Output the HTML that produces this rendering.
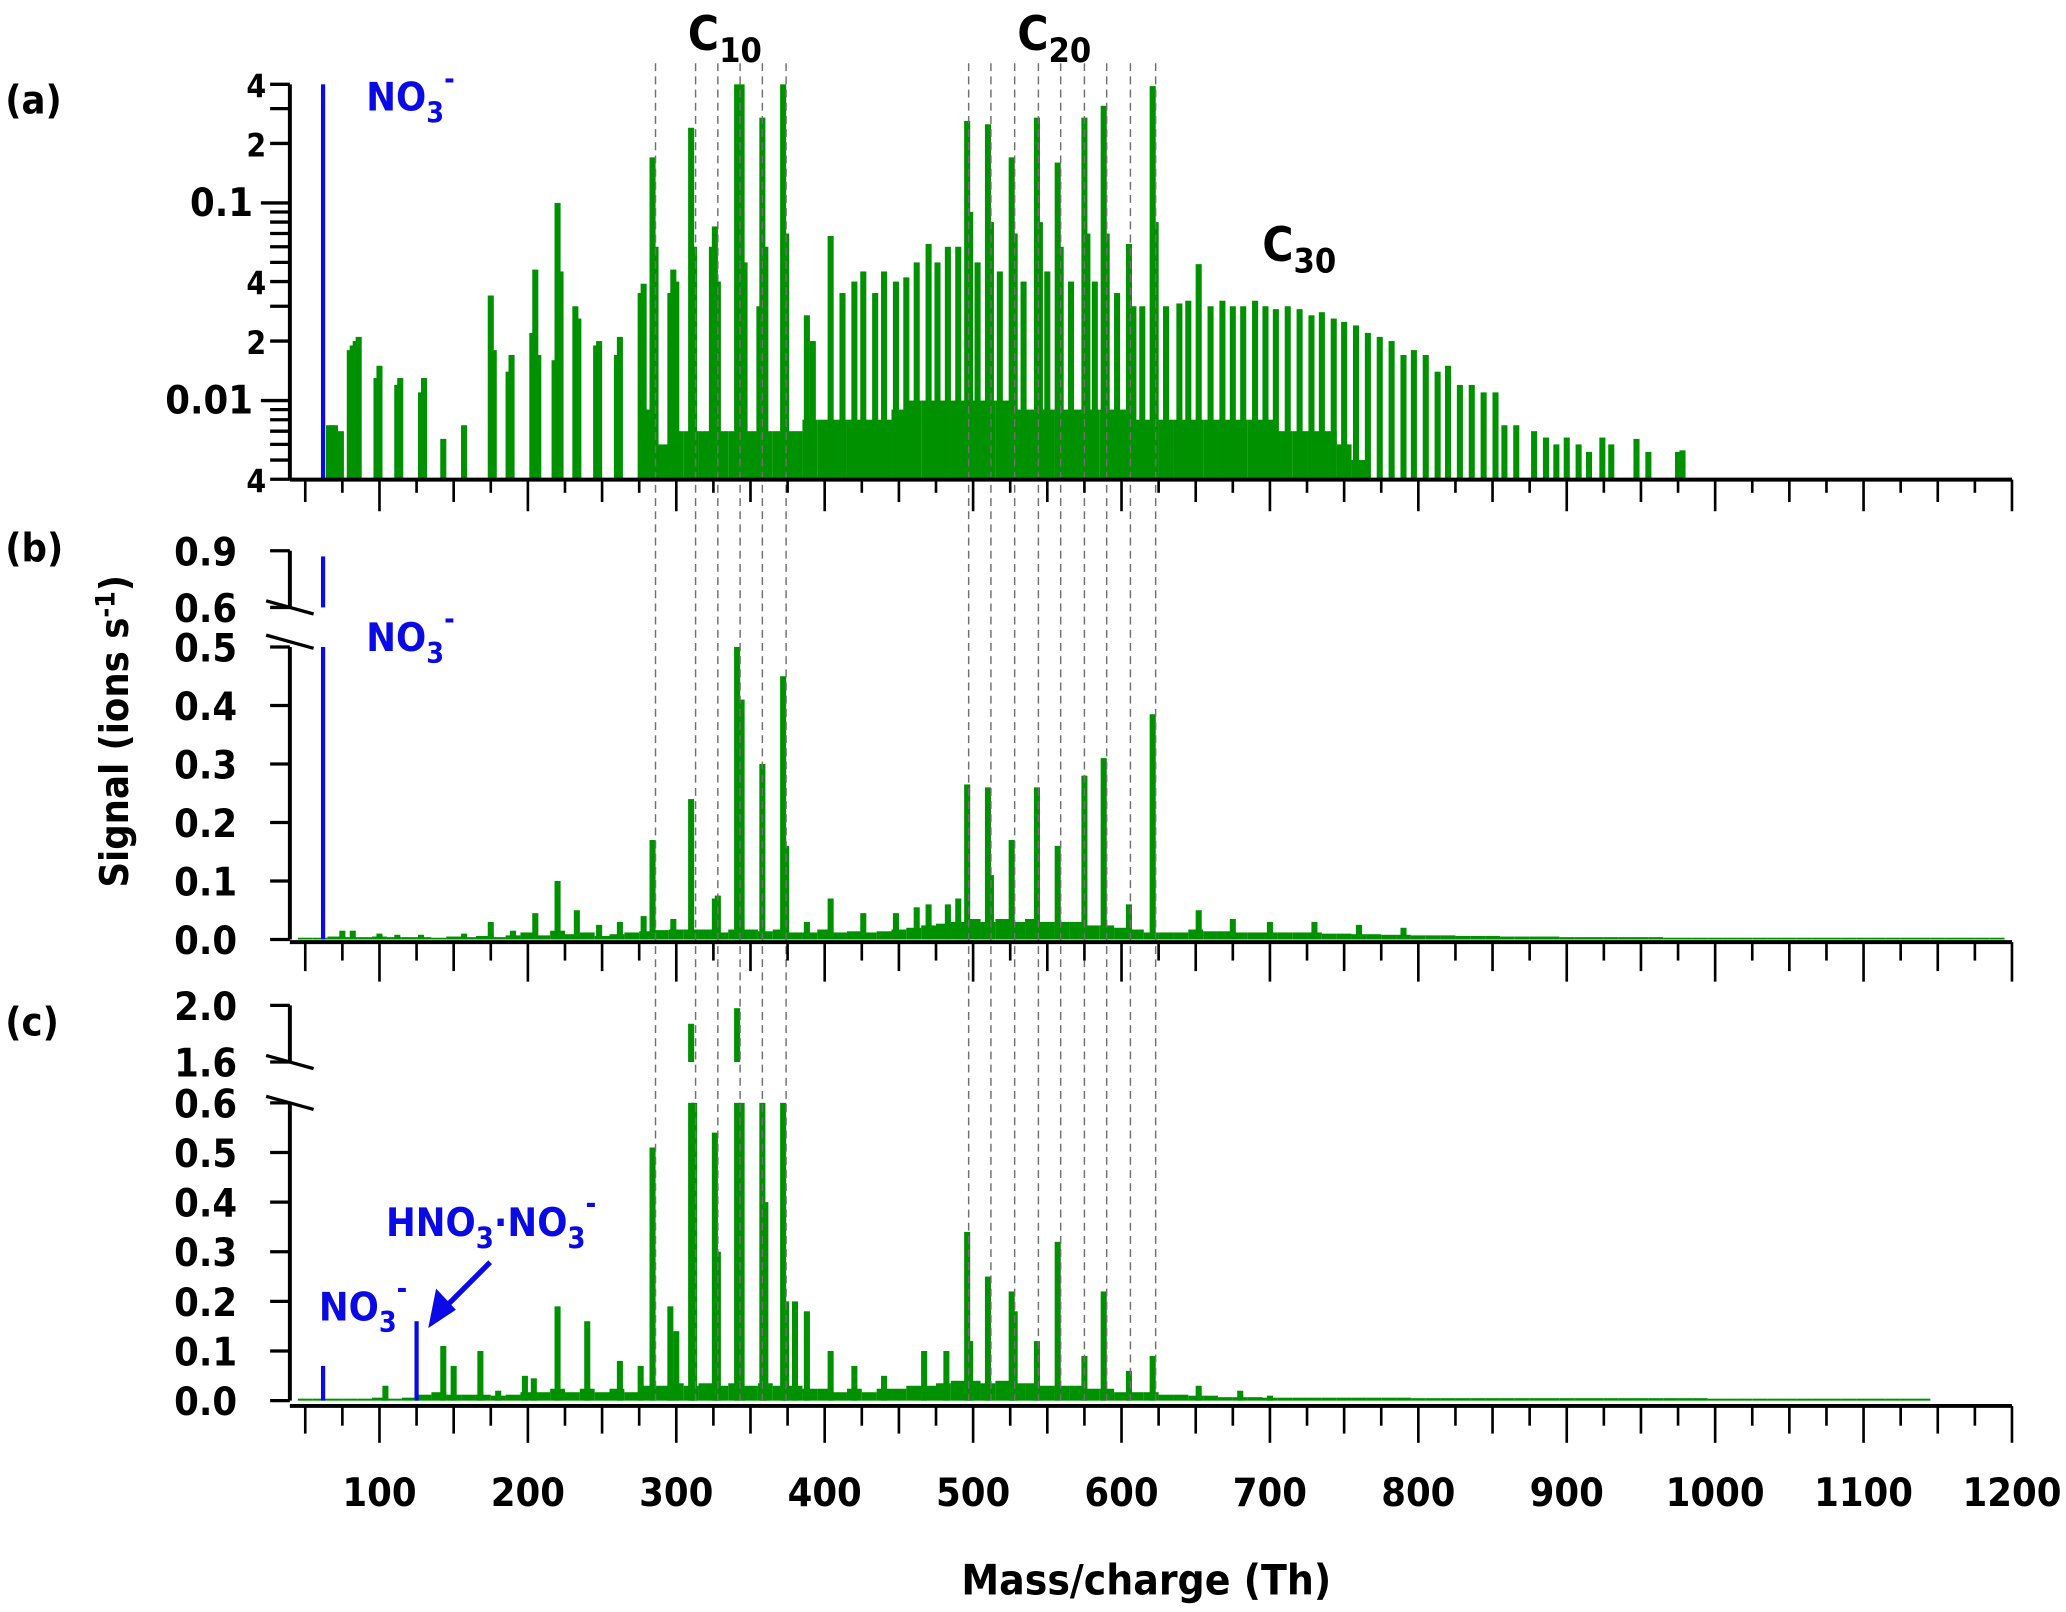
<!DOCTYPE html>
<html><head><meta charset="utf-8">
<style>
html,body{margin:0;padding:0;background:#fff;}
svg{display:block;}
text{font-family:"DejaVu Sans Condensed","DejaVu Sans","Liberation Sans",sans-serif;font-weight:bold;font-stretch:condensed;}
</style></head>
<body>
<svg id="chart" width="2066" height="1612" viewBox="0 0 1568 1223.4" preserveAspectRatio="none" xmlns="http://www.w3.org/2000/svg">
<g id="gEnv"></g><g id="gBars"></g><g id="gDash"></g><g id="gAxes"></g><g id="gText"></g>
</svg>
<script>
// ---------- data ----------
const dashMz = [286,313,328,343,358,374,497,512,528,544,559,575,590,606,623];
const xTickLabels = [100,200,300,400,500,600,700,800,900,1000,1100,1200];

// panel (a) log scale
const aEnvStart = 50;
const aEnv = [0,0,.005,0,0,0,0,0,0,0,0,0,0,0,0,0,0,0,0,0,0,0,0,
 .009,.006,.007,.007,.007,.007,.007,.007,.007,.007,.007,.008,.008,.008,.008,.008,.008,
 .009,.01,.01,.01,.01,.01,.01,.01,.009,.009,.009,.009,.009,.009,.009,.009,
 .008,.008,.008,.008,.008,.008,.008,.008,.008,.008,.007,.007,.007,.007,.006,.005];
const aMz = [66,68,70,74,80,82,84,86,98,100,112,114,128,130,143,157,175,177,187,189,203,205,207,218,220,222,232,234,246,248,260,262,276,278,284,286,296,298,300,310,312,324,326,328,341,344,346,356,358,360,372,374,388,392,404,412,420,426,434,440,448,455,462,470,476,483,490,496,498,503,510,512,518,526,528,534,543,545,550,557,559,566,575,577,582,588,590,597,605,608,614,621,623,630,639,645,652,660,668,675,682,690,697,704,712,720,728,735,743,750,758,766,774,782,790,797,805,813,820,828,836,844,852,858,866,878,886,893,900,908,915,924,930,947,955,975,978];
const aVal = [.0075,.0075,.0075,.007,.018,.019,.02,.021,.013,.015,.012,.013,.011,.013,.0064,.0075,.034,.018,.014,.017,.022,.046,.017,.016,.1,.045,.03,.026,.019,.02,.017,.021,.035,.039,.17,.06,.035,.046,.04,.24,.06,.06,.076,.04,.4,.4,.05,.03,.27,.06,.4,.07,.027,.02,.068,.035,.04,.045,.035,.045,.04,.042,.05,.062,.05,.06,.06,.26,.09,.05,.25,.08,.045,.17,.07,.04,.27,.08,.045,.16,.06,.04,.27,.07,.04,.31,.07,.035,.062,.03,.03,.39,.08,.03,.031,.032,.049,.03,.032,.03,.03,.032,.03,.029,.03,.029,.027,.028,.026,.025,.024,.022,.021,.02,.017,.018,.017,.014,.015,.012,.012,.011,.011,.0075,.0075,.007,.0065,.006,.0065,.006,.0055,.0065,.006,.0064,.0055,.0055,.0056];

// panel (b) linear with break
const bEnvStart = 50;
const bEnv = [.003,.003,.005,.004,.004,.005,.004,.004,.004,.003,.005,.004,.006,.004,.007,.012,.007,.015,.009,.012,.006,.009,.012,.014,.016,
 .017,.017,.017,.012,.017,.017,.014,.017,.012,.012,.017,.012,.014,.012,.014,.017,.02,.024,.027,.03,.035,.03,.035,.03,.035,.03,.03,.03,.024,.024,
 .02,.017,.012,.012,.012,.017,.014,.014,.012,.012,.012,.012,.012,.012,.01,.01,.009,.009,.008,.008,.007,.007,.007,.006,.006,.006,.005,.005,.005,.005,
 .004,.004,.004,.004,.004,.004,.004,.003,.003,.003,.003,.003,.003,.003,.003,.003,.003,.003,.003,.003,.003,.003,.003,.003,.003,.003,.003,.003,.003,.003];
const bMz = [75,82,100,112,128,157,175,190,205,220,233,248,262,278,284,298,310,326,328,341,344,358,372,374,388,404,426,448,462,470,483,490,496,510,512,526,543,557,575,588,605,621,652,675,700,730,760,790];
const bVal = [.015,.015,.01,.008,.008,.01,.03,.015,.045,.1,.05,.025,.03,.04,.17,.035,.24,.07,.075,.5,.41,.3,.45,.16,.03,.07,.045,.045,.055,.06,.06,.07,.265,.26,.11,.17,.26,.16,.28,.31,.06,.385,.05,.035,.03,.03,.025,.02];

// panel (c)
const cEnvStart = 50;
const cEnv = [.004,.004,.004,.004,.004,.006,.004,.006,.012,.017,.012,.012,.012,.01,.012,.017,.017,.024,.017,.024,.017,.024,.017,.03,.03,
 .035,.03,.035,.03,.035,.03,.035,.03,.03,.024,.024,.017,.024,.017,.024,.024,.03,.03,.035,.04,.04,.035,.04,.035,.035,.03,.03,.03,.024,.024,
 .017,.017,.017,.012,.012,.01,.01,.007,.007,.007,.006,.006,.006,.006,.006,.006,.006,.006,.006,.006,
 .005,.005,.005,.005,.005,.005,.005,.005,.005,.005,.005,.005,.005,.005,.005,.005,.005,.005,.005,.005,
 .004,.004,.004,.004,.004,.004,.004,.004,.004,.004,.004,.004,.004,.004,.004];
const cMz = [104,143,150,168,180,198,204,220,240,262,276,284,296,300,310,312,326,328,341,344,358,360,372,374,380,388,404,420,440,467,482,496,498,510,526,528,543,557,575,588,605,621,652,680,700];
const cVal = [.03,.11,.07,.1,.02,.05,.045,.19,.16,.08,.07,.51,.19,.14,1.87,.6,.54,.3,1.98,.6,.6,.4,.6,.2,.2,.18,.1,.07,.05,.1,.1,.34,.12,.25,.22,.18,.12,.32,.09,.22,.06,.09,.03,.02,.01];

const blueMz = [62,62,62,125];

// ---------- scales ----------
const NS="http://www.w3.org/2000/svg";
const xs = m => 288 + (m-100)*1.12636;
const ya = v => { const y = 154 - (Math.log10(v)+1)*150; return Math.max(64, Math.min(364, y)); };
const yb = v => 713 - Math.min(v,0.5)*444;
const ybU = v => 461 - (Math.min(v,0.9)-0.6)*143.3;
const yc = v => 1063 - Math.min(v,0.6)*376.7;
const ycU = v => 806 - (Math.min(v,2.0)-1.6)*107.5;
const GREEN="#009100", BLUE="#0a0ae6";

function mk(tag, attrs, parent){ const e=document.createElementNS(NS,tag); for(const k in attrs) e.setAttribute(k,attrs[k]); parent.appendChild(e); return e; }
const gEnv=document.getElementById('gEnv'), gBars=document.getElementById('gBars'), gDash=document.getElementById('gDash'), gAxes=document.getElementById('gAxes'), gText=document.getElementById('gText');

function rect(parent, x0, x1, y0, y1, fill, name){
  const r = mk('rect',{x:Math.min(x0,x1),y:Math.min(y0,y1),width:Math.abs(x1-x0),height:Math.abs(y1-y0),fill:fill},parent);
  
  
  return r;
}

// envelopes
aEnv.forEach((v,i)=>{ if(v<=0.004) return; const m=aEnvStart+i*10; rect(gEnv, xs(m-5), xs(m+5), 364, ya(v), GREEN, 'panel-a-background'); });
bEnv.forEach((v,i)=>{ const m=bEnvStart+i*10; rect(gEnv, xs(m-5), xs(m+5), 713, yb(v), GREEN, 'panel-b-background'); });
cEnv.forEach((v,i)=>{ const m=cEnvStart+i*10; rect(gEnv, xs(m-5), xs(m+5), 1063, yc(v), GREEN, 'panel-c-background'); });

// peaks
const W=2.3;
aMz.forEach((m,i)=>{ rect(gBars, xs(m)-W, xs(m)+W, 364, ya(aVal[i]), GREEN, 'panel-a-peak'); });
bMz.forEach((m,i)=>{ const v=bVal[i]; rect(gBars, xs(m)-W, xs(m)+W, 713, yb(v), GREEN, 'panel-b-peak'); if(v>0.6) rect(gBars, xs(m)-W, xs(m)+W, 461, ybU(v), GREEN, 'panel-b-peak-upper'); });
cMz.forEach((m,i)=>{ const v=cVal[i]; rect(gBars, xs(m)-W, xs(m)+W, 1063, yc(v), GREEN, 'panel-c-peak'); if(v>1.6) rect(gBars, xs(m)-W, xs(m)+W, 806, ycU(v), GREEN, 'panel-c-peak-upper'); });

// blue reagent ion bars
rect(gBars, xs(blueMz[0])-1.6, xs(blueMz[0])+1.6, 364, ya(0.4), BLUE, 'panel-a-no3-peak');
rect(gBars, xs(blueMz[1])-1.6, xs(blueMz[1])+1.6, 713, yb(0.5), BLUE, 'panel-b-no3-peak');
rect(gBars, xs(blueMz[1])-1.6, xs(blueMz[1])+1.6, 461, ybU(0.87), BLUE, 'panel-b-no3-peak-upper');
rect(gBars, xs(blueMz[2])-1.6, xs(blueMz[2])+1.6, 1063, yc(0.07), BLUE, 'panel-c-no3-peak');
rect(gBars, xs(blueMz[3])-1.6, xs(blueMz[3])+1.6, 1063, yc(0.16), BLUE, 'panel-c-hno3-no3-peak');

// dashed lines
dashMz.forEach(m=>{ const l=mk('line',{x1:xs(m),x2:xs(m),y1:48,y2:1063,stroke:'#707070','stroke-width':1.1,'stroke-dasharray':'6,4'},gDash);
  
   });

// axes helpers
function line(x1,y1,x2,y2,w,name){ const l=mk('line',{x1,y1,x2,y2,stroke:'#000','stroke-width':w},gAxes);
  
   return l; }
function txt(x,y,s,size,anchor,fill,name){ const t=mk('text',{x,y,'font-size':size,'text-anchor':anchor||'start',fill:fill||'#000'},gText); t.textContent=s;
  
   return t; }

// x axes
[[364,24,17,10],[715,30,22,14],[1067,28,21,15]].forEach(([y,lL,lM,lS],pi)=>{
  line(220,y,1527,y,3,'x-axis-'+'abc'[pi]);
  for(let m=50;m<=1200;m+=25){ const L = m%100===0?lL:(m%50===0?lM:lS); line(xs(m),y,xs(m),y+L,2,'x-tick'); }
});
xTickLabels.forEach(v=>txt(xs(v),1143,String(v),30,'middle','#000','x-tick-label'));
txt(870,1210,'Mass/charge (Th)',32,'middle','#000','x-axis-title');

// panel a y axis
line(220,64,220,364,3,'y-axis-a');
const aMajor=[[0.4,'4'],[0.2,'2'],[0.1,'0.1'],[0.04,'4'],[0.02,'2'],[0.01,'0.01'],[0.004,'4']];
[0.004,0.005,0.006,0.007,0.008,0.009,0.01,0.02,0.03,0.04,0.05,0.06,0.07,0.08,0.09,0.1,0.2,0.3,0.4].forEach(v=>{
  const bg = (v===0.1||v===0.01);
  line(bg?198:205, ya(v), 220, ya(v), 2.5,'y-tick-a');
});
aMajor.forEach(([v,s])=>txt(s.length>1?192:202, ya(v)+10, s, s.length>1?30:24,'end','#000','y-tick-label-a'));

// panel b y axis
line(220,418,220,461,3,'y-axis-b-upper');
line(220,491,220,713,3,'y-axis-b-lower');
[0,0.1,0.2,0.3,0.4,0.5].forEach(v=>{ line(205,yb(v),220,yb(v),2.5,'y-tick-b'); txt(180,yb(v)+11,v.toFixed(1),30,'end','#000','y-tick-label-b'); });
[0.6,0.9].forEach(v=>{ line(205,ybU(v),220,ybU(v),2.5,'y-tick-b'); txt(180,ybU(v)+11,v.toFixed(1),30,'end','#000','y-tick-label-b'); });
line(202,456,238,466,2.5,'axis-break-b'); line(202,482,238,492,2.5,'axis-break-b');

// panel c y axis
line(220,763,220,806,3,'y-axis-c-upper');
line(220,837,220,1063,3,'y-axis-c-lower');
[0,0.1,0.2,0.3,0.4,0.5,0.6].forEach(v=>{ line(205,yc(v),220,yc(v),2.5,'y-tick-c'); txt(180,yc(v)+11,v.toFixed(1),30,'end','#000','y-tick-label-c'); });
[1.6,2.0].forEach(v=>{ line(205,ycU(v),220,ycU(v),2.5,'y-tick-c'); txt(180,ycU(v)+11,v.toFixed(1),30,'end','#000','y-tick-label-c'); });
line(202,801,238,811,2.5,'axis-break-c'); line(202,832,238,842,2.5,'axis-break-c');

// y-axis title
const yt = txt(0,0,'',30,'middle','#000','y-axis-title');
yt.setAttribute('transform','translate(97,555) rotate(-90)');
yt.innerHTML='Signal (ions s<tspan dy="-10" font-size="20">-1</tspan><tspan dy="10">)</tspan>';

// panel labels
txt(4,86,'(a)',30,'start','#000','panel-label-a');
txt(4,426,'(b)',30,'start','#000','panel-label-b');
txt(4,786,'(c)',30,'start','#000','panel-label-c');

// annotations
function sub(x,y,main,subs,size,fill,name,sup){
  const t=txt(x,y,'',size,'start',fill,name);
  t.innerHTML = main+'<tspan dy="9" font-size="'+(size*0.72)+'">'+subs+'</tspan>'+(sup?'<tspan dy="-26" font-size="'+(size*0.72)+'">'+sup+'</tspan>':'');
  return t;
}
sub(522,38,'C','10',36,'#000','c10-label');
sub(772,38,'C','20',36,'#000','c20-label');
sub(958,198,'C','30',36,'#000','c30-label');
sub(278,84,'NO','3',30,BLUE,'no3-label-a','-');
sub(278,494,'NO','3',30,BLUE,'no3-label-b','-');
sub(242,1002,'NO','3',30,BLUE,'no3-label-c','-');
const h=txt(293,938,'',30,'start',BLUE,'hno3-no3-label');
h.innerHTML='HNO<tspan dy="9" font-size="22">3</tspan><tspan dy="-9">·NO</tspan><tspan dy="9" font-size="22">3</tspan><tspan dy="-26" font-size="22">-</tspan>';
const al=mk('line',{x1:372,y1:958,x2:340,y2:990,stroke:BLUE,'stroke-width':4},gText);


const ah=mk('polygon',{points:'325,1008 331,978 346,994',fill:BLUE},gText);


</script>
</body></html>
